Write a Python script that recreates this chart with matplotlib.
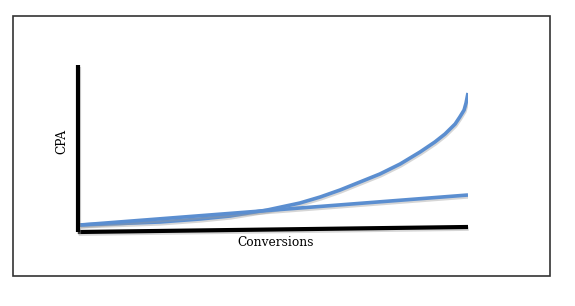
import numpy as np
import matplotlib
matplotlib.use('Agg')
import matplotlib.pyplot as plt
import matplotlib.patheffects as pe
from matplotlib.patches import Rectangle

# conversions (0-100) and CPA values
conv_curve = [0.5, 10.8, 21.0, 31.3, 39.0, 48.5, 56.9, 62.1, 67.2, 72.3, 77.4,
              82.6, 87.7, 91.5, 94.1, 96.7, 97.9, 99.0, 99.5, 100.0]
cpa_curve = [7, 8.5, 10, 13, 16, 22, 29, 35, 42, 50, 58,
             68, 80, 90, 98, 108, 115, 122, 129, 139]

conv_line = [0.5, 100.0]
cpa_line = [7, 37]

blue = '#5b8ed0'

fig = plt.figure(figsize=(5.75, 3.06), dpi=100)

# outer frame
fig.patches.append(Rectangle((13/575, 1-276/306), 537/575, 260/306,
                             transform=fig.transFigure, fill=False,
                             edgecolor='#333333', lw=1.2))

ax = fig.add_axes([78/575, 1-232/306, 390/575, 167/306])
ax.set_xlim(0, 100)
ax.set_ylim(0, 167)
ax.axis('off')

shadow = [pe.SimpleLineShadow(offset=(0.5, -1.3), shadow_color='#999999', alpha=0.4), pe.Normal()]

ax.plot(conv_curve, cpa_curve, color=blue, lw=2.6, solid_capstyle='butt',
        solid_joinstyle='round', path_effects=shadow)
ax.plot(conv_line, cpa_line, color=blue, lw=2.6, solid_capstyle='butt', path_effects=shadow)

# hand-drawn looking axes
ax.plot([0, 1.0], [0, 0.03], transform=ax.transAxes, color='black', lw=3,
        solid_capstyle='butt', clip_on=False, path_effects=shadow)
ax.plot([0, 0], [0, 1], transform=ax.transAxes, color='black', lw=3,
        solid_capstyle='butt', clip_on=False, path_effects=shadow)

fig.text(275.5/575, 1-243/306, 'Conversions', ha='center', va='center',
         family='DejaVu Serif', fontsize=8.8)
fig.text(62/575, 1-141/306, 'CPA', ha='center', va='center', rotation=90,
         family='DejaVu Serif', fontsize=8.8)

fig.savefig('out.png', dpi=100)
